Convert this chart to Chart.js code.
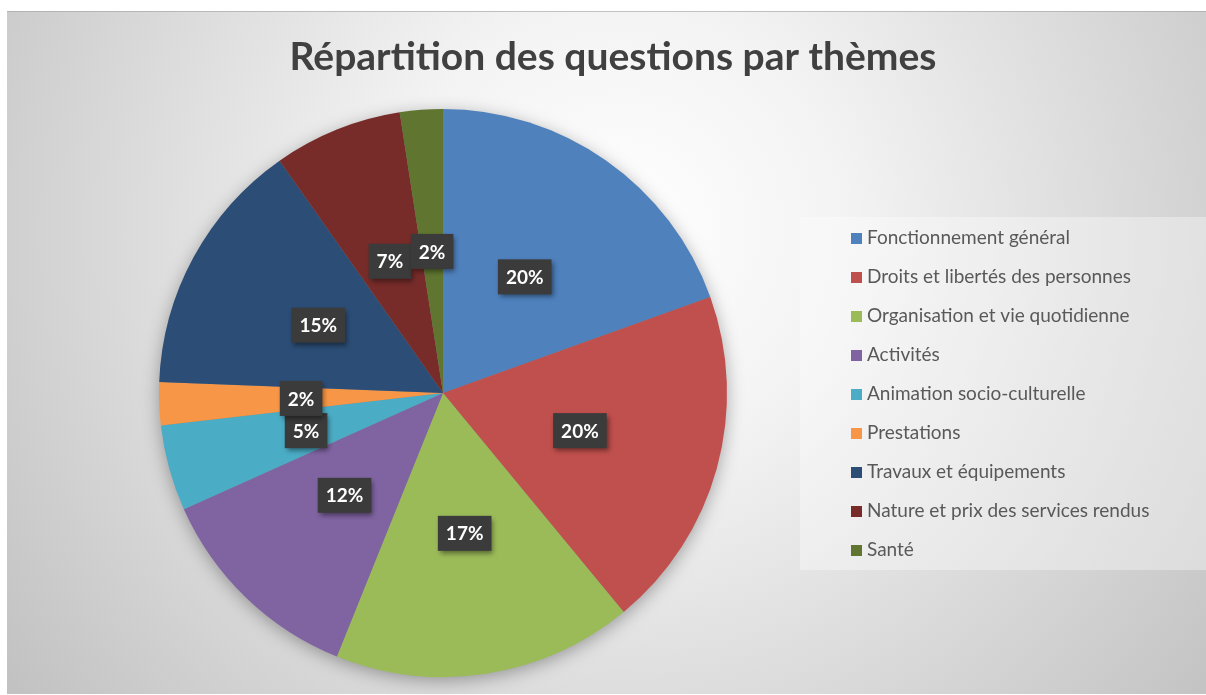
<!DOCTYPE html>
<html>
<head>
<meta charset="utf-8">
<script src="https://cdn.jsdelivr.net/npm/chart.js@4/dist/chart.umd.min.js"></script>
<style>
  html, body { margin: 0; padding: 0; background: #ffffff; }
  #wrap { position: absolute; left: 0; top: 0; width: 1206px; height: 695px; }
</style>
</head>
<body>
<div id="wrap"><canvas id="c" width="1206" height="695"></canvas></div>
<script>
const titleText = 'Répartition des questions par thèmes';
const categories = [
  'Fonctionnement général',
  'Droits et libertés des personnes',
  'Organisation et vie quotidienne',
  'Activités',
  'Animation socio-culturelle',
  'Prestations',
  'Travaux et équipements',
  'Nature et prix des services rendus',
  'Santé'
];
const counts = [8, 8, 7, 5, 2, 1, 6, 3, 1];
const sliceColors = ['#4F81BD', '#C0504D', '#9BBB59', '#8064A2', '#4BACC6', '#F79646', '#2C4D75', '#772C2A', '#5F7530'];

const FONT = 'Lato, "Open Sans", sans-serif';

const backgroundPlugin = {
  id: 'bgPlugin',
  beforeDraw(chart) {
    const ctx = chart.ctx;
    ctx.save();
    ctx.fillStyle = '#ffffff';
    ctx.fillRect(0, 0, chart.width, chart.height);
    const g = ctx.createRadialGradient(620, 230, 0, 620, 230, 760);
    g.addColorStop(0, '#ffffff');
    g.addColorStop(0.3, '#f3f3f3');
    g.addColorStop(1, '#c2c2c2');
    ctx.fillStyle = g;
    ctx.fillRect(7, 11, 1199, 683);
    ctx.fillStyle = 'rgba(160,160,160,0.6)';
    ctx.fillRect(7, 11, 1199, 1);
    // legend panel
    ctx.fillStyle = 'rgba(255,255,255,0.35)';
    ctx.fillRect(800, 217, 406, 353);
    // title
    ctx.fillStyle = '#404040';
    ctx.font = 'bold 39px ' + FONT;
    ctx.textAlign = 'center';
    ctx.textBaseline = 'middle';
    ctx.fillText(titleText, 613, 57);
    ctx.restore();
  }
};

const pieShadowPlugin = {
  id: 'pieShadow',
  beforeDatasetsDraw(chart) {
    const meta = chart.getDatasetMeta(0);
    const a = meta.data[0];
    if (!a) return;
    const ctx = chart.ctx;
    ctx.save();
    ctx.shadowColor = 'rgba(0,0,0,0.35)';
    ctx.shadowBlur = 18;
    ctx.shadowOffsetY = 4;
    ctx.beginPath();
    ctx.arc(a.x, a.y, a.outerRadius - 1, 0, Math.PI * 2);
    ctx.fillStyle = '#888888';
    ctx.fill();
    ctx.restore();
  }
};

const labelPlugin = {
  id: 'pctLabels',
  afterDatasetsDraw(chart) {
    const ctx = chart.ctx;
    const meta = chart.getDatasetMeta(0);
    const data = chart.data.datasets[0].data;
    const total = data.reduce((s, v) => s + v, 0);
    ctx.save();
    ctx.font = 'bold 19px ' + FONT;
    ctx.textAlign = 'center';
    ctx.textBaseline = 'middle';
    meta.data.forEach((arc, i) => {
      const p = arc.getCenterPoint();
      const txt = Math.round(data[i] / total * 100) + '%';
      const w = ctx.measureText(txt).width + 16;
      const h = 35;
      ctx.save();
      ctx.shadowColor = 'rgba(0,0,0,0.45)';
      ctx.shadowBlur = 5;
      ctx.shadowOffsetX = 2;
      ctx.shadowOffsetY = 3;
      ctx.fillStyle = '#3b3b3b';
      ctx.fillRect(p.x - w / 2, p.y - h / 2, w, h);
      ctx.restore();
      ctx.fillStyle = '#ffffff';
      ctx.fillText(txt, p.x, p.y + 1);
    });
    ctx.restore();
  }
};

const legendPlugin = {
  id: 'customLegend',
  afterDraw(chart) {
    const ctx = chart.ctx;
    const labels = chart.data.labels;
    const cols = chart.data.datasets[0].backgroundColor;
    ctx.save();
    ctx.font = '19px ' + FONT;
    ctx.textAlign = 'left';
    ctx.textBaseline = 'middle';
    labels.forEach((lab, i) => {
      const y = 238 + i * 39;
      ctx.fillStyle = cols[i];
      ctx.fillRect(851, y - 5, 11, 11);
      ctx.fillStyle = '#595959';
      ctx.fillText(lab, 867, y);
    });
    ctx.restore();
  }
};

new Chart(document.getElementById('c'), {
  type: 'pie',
  data: {
    labels: categories,
    datasets: [{
      data: counts,
      backgroundColor: sliceColors,
      borderWidth: 0
    }]
  },
  options: {
    responsive: false,
    animation: false,
    layout: { padding: { top: 109, bottom: 18, left: 159, right: 479 } },
    plugins: {
      legend: { display: false },
      tooltip: { enabled: false },
      title: { display: false }
    }
  },
  plugins: [backgroundPlugin, pieShadowPlugin, labelPlugin, legendPlugin]
});
</script>
</body>
</html>
